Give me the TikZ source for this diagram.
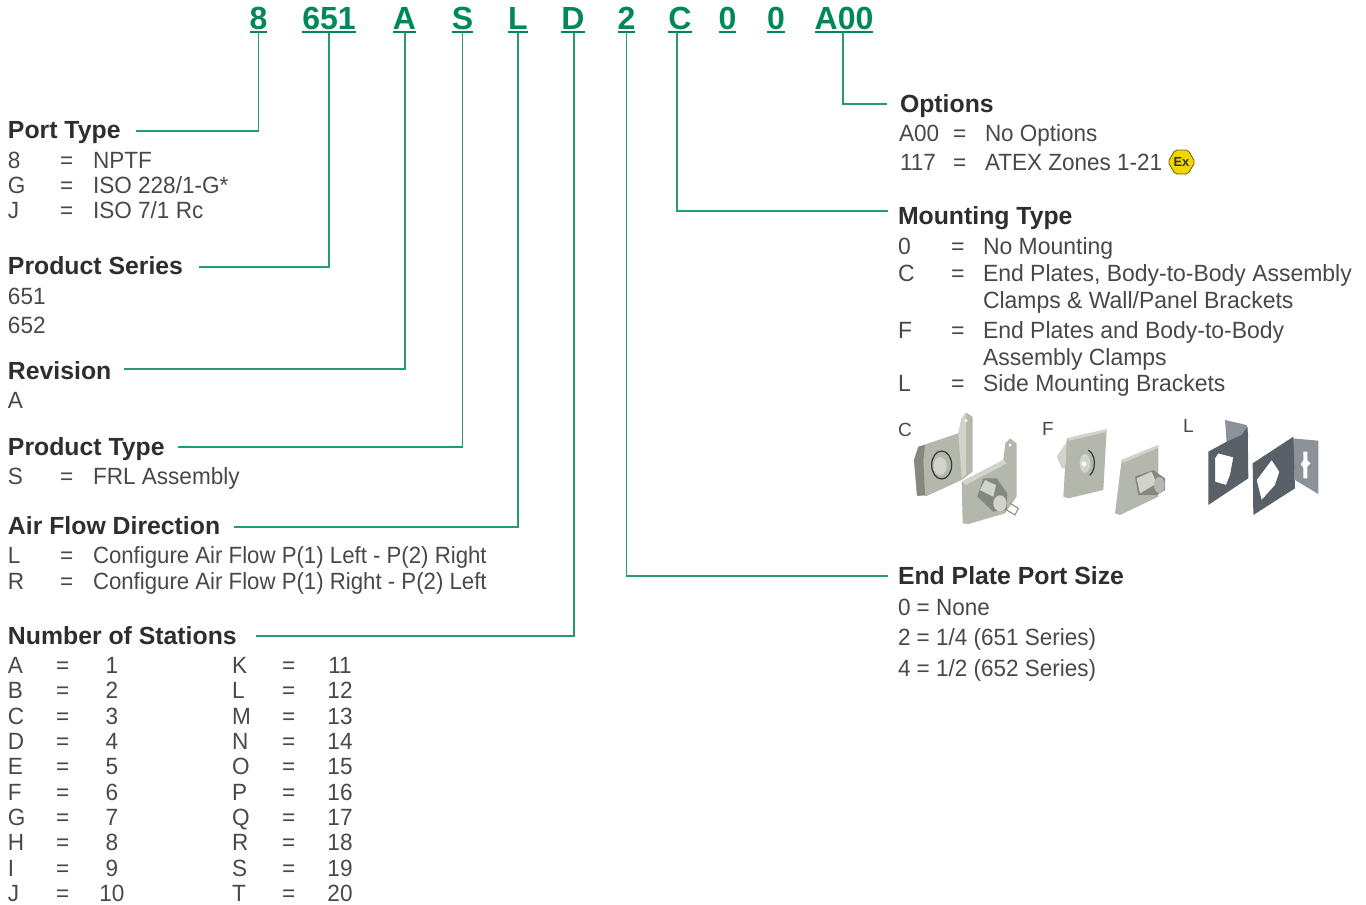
\documentclass[tikz,border=0pt]{standalone}
\usepackage{fontspec}
\setmainfont{Liberation Sans}
\newfontfamily\fL[FakeStretch=0.96]{Liberation Sans}
\newfontfamily\fC[FakeStretch=0.945]{Liberation Sans}
\newfontfamily\fR[FakeStretch=0.977]{Liberation Sans}
\newfontfamily\fE[FakeStretch=0.957]{Liberation Sans}
\definecolor{grn}{HTML}{00885A}
\definecolor{txtc}{HTML}{484848}
\definecolor{pl}{HTML}{B4B7AC}
\definecolor{pld}{HTML}{85887F}
\definecolor{pll}{HTML}{D2D4CC}
\definecolor{stl}{HTML}{5A6068}
\definecolor{stll}{HTML}{8D9298}
\definecolor{exy}{HTML}{F2D500}
\tikzset{
 every node/.style={inner sep=0pt,outer sep=0pt},
 codebox/.style={anchor=base,text=grn,font=\fontsize{32}{32}\selectfont\bfseries,text depth=2.5pt},
 ul/.style={draw=grn,line width=2pt},
 lead/.style={draw=grn,line width=1.1pt,opacity=.85},
 head/.style={anchor=base west,text=black!82,font=\fontsize{24.8}{25}\selectfont\bfseries},
 body/.style={anchor=base west,text=txtc,font=\fontsize{23.5}{24}\fL\selectfont},
 bodyc/.style={anchor=base west,text=txtc,font=\fontsize{23.5}{24}\fC\selectfont},
 bodyr/.style={anchor=base west,text=txtc,font=\fontsize{23.5}{24}\fR\selectfont},
 bodye/.style={anchor=base west,text=txtc,font=\fontsize{23.5}{24}\fE\selectfont},
 num/.style={anchor=base,text=txtc,font=\fontsize{23.5}{24}\fL\selectfont},
 small/.style={anchor=base west,text=txtc,font=\fontsize{19}{20}\selectfont},
}
\begin{document}
\begin{tikzpicture}[x=1pt,y=-1pt]
\useasboundingbox (0,0) rectangle (1366,905);
% code letters
\foreach \nm/\xx/\tx in {c8/258.5/8,c651/329/651,cA/404.5/A,cS/462.5/S,cL/518/L,cD/573/D,c2/626.5/2,cC/680/C,cZa/727.5/0,cZb/776/0,cOpt/844/A00}{
 \node[codebox] (\nm) at (\xx,29.5) {\tx};
 \draw[ul] (\nm.south west) -- (\nm.south east);
}
% headings
\node[head] (hPort) at (8,138) {Port Type};
\node[head] (hSeries) at (8,274) {Product Series};
\node[head] (hRev) at (8,379) {Revision};
\node[head] (hProd) at (8,455) {Product Type};
\node[head] (hAir) at (8,534) {Air Flow Direction};
\node[head] (hNum) at (8,644) {Number of Stations};
\node[head] (hOpt) at (900,112) {Options};
\node[head] (hMount) at (898,224) {Mounting Type};
\node[head] (hEnd) at (898,584) {End Plate Port Size};
% leader ends
\coordinate (ePort) at (136,131);
\coordinate (eSeries) at (199,267);
\coordinate (eRev) at (124,369);
\coordinate (eProd) at (178,447);
\coordinate (eAir) at (234,527);
\coordinate (eNum) at (256,636);
\coordinate (eOpt) at (887,104);
\coordinate (eMount) at (888,211);
\coordinate (eEnd) at (888,576);
\draw[lead] (c8.south) |- (ePort);
\draw[lead] (c651.south) |- (eSeries);
\draw[lead] (cA.south) ++(0.5,0) |- (eRev);
\draw[lead] (cS.south) |- (eProd);
\draw[lead] (cL.south) |- (eAir);
\draw[lead] (cD.south) ++(1,0) |- (eNum);
\draw[lead] (c2.south) |- (eEnd);
\draw[lead] (cC.south) ++(-3,0) |- (eMount);
\draw[lead] (cOpt.south) ++(-1,0) |- (eOpt);
% left blocks
\node[body] (a1) at (8,168) {8};\node[body] (a2) at (60,168) {=};\node[body] (a3) at (93,168) {NPTF};
\node[body] (b1) at (8,193) {G};\node[body] (b2) at (60,193) {=};\node[body] (b3) at (93,193) {ISO 228/1-G*};
\node[body] (d1) at (8,218) {J};\node[body] (d2) at (60,218) {=};\node[body] (d3) at (93,218) {ISO 7/1 Rc};
\node[body] (s1) at (8,304) {651};
\node[body] (s2) at (8,333) {652};
\node[body] (r1) at (8,408) {A};
\node[body] (p1) at (8,484) {S};\node[body] (p2) at (60,484) {=};\node[body] (p3) at (93,484) {FRL Assembly};
\node[body] (f1) at (8,563) {L};\node[body] (f2) at (60,563) {=};\node[bodyc] (f3) at (93,563) {Configure Air Flow P(1) Left - P(2) Right};
\node[body] (g1) at (8,589) {R};\node[body] (g2) at (60,589) {=};\node[bodyc] (g3) at (93,589) {Configure Air Flow P(1) Right - P(2) Left};
% stations
\foreach \yy/\la/\na/\lb/\nb [count=\i] in {673/A/1/K/11,698/B/2/L/12,724/C/3/M/13,749/D/4/N/14,774/E/5/O/15,800/F/6/P/16,825/G/7/Q/17,850/H/8/R/18,876/I/9/S/19,901/J/10/T/20}{
 \node[body] (la\i) at (8,\yy) {\la};
 \node[body] (ea\i) at (56,\yy) {=};
 \node[num] (na\i) at (112,\yy) {\na};
 \node[body] (lb\i) at (232,\yy) {\lb};
 \node[body] (eb\i) at (282,\yy) {=};
 \node[num] (nb\i) at (340,\yy) {\nb};
}
% options
\node[bodye] (o1) at (899,141) {A00};\node[bodye] (o2) at (953,141) {=};\node[bodye] (o3) at (985,141) {No Options};
\node[bodye] (o4) at (900,170) {117};\node[bodye] (o5) at (953,170) {=};\node[bodye] (o6) at (985,170) {ATEX Zones 1-21};
% Ex mark
\filldraw[fill=exy,draw=black!55!exy,line width=.8pt,rounded corners=2pt] (1168,162) -- (1175,150) -- (1188,150) -- (1195,162) -- (1188,174) -- (1175,174) -- cycle;
\node[anchor=center,text=black!80,font=\fontsize{13}{13}\selectfont\bfseries] (exm) at (1181.5,162) {Ex};
% mounting
\node[bodyr] (m1) at (898,254) {0};\node[bodyr] (m2) at (951,254) {=};\node[bodyr] (m3) at (983,254) {No Mounting};
\node[bodyr] (m4) at (898,281) {C};\node[bodyr] (m5) at (951,281) {=};\node[bodyr] (m6) at (983,281) {End Plates, Body-to-Body Assembly};
\node[bodyr] (m7) at (983,308) {Clamps \& Wall/Panel Brackets};
\node[bodyr] (m8) at (898,338) {F};\node[bodyr] (m9) at (951,338) {=};\node[bodyr] (m10) at (983,338) {End Plates and Body-to-Body};
\node[bodyr] (m11) at (983,365) {Assembly Clamps};
\node[bodyr] (m12) at (898,391) {L};\node[bodyr] (m13) at (951,391) {=};\node[bodyr] (m14) at (983,391) {Side Mounting Brackets};
\node[small] (tC) at (898,436) {C};
\node[small] (tF) at (1042,435) {F};
\node[small] (tL) at (1183,432) {L};
% end plate
\node[bodye] (e1) at (898,615) {0 = None};
\node[bodye] (e2) at (898,645) {2 = 1/4 (651 Series)};
\node[bodye] (e3) at (898,676) {4 = 1/2 (652 Series)};
% pictures (coordinates are 3x crop pixels)
\begin{scope}[shift={(890,400)},scale=1/3,line join=round]
 % C left
 \fill[pl] (80,285) -- (72,180) -- (85,140) -- (205,100) -- (215,55) -- (228,38) -- (248,50) -- (248,215) -- (215,240) -- (110,288) -- cycle;
 \fill[pld] (72,180) -- (85,140) -- (105,135) -- (100,180) -- (105,285) -- (82,288) -- cycle;
 \fill[pll] (205,100) -- (215,55) -- (228,38) -- (228,225) -- (215,235) -- cycle;
 \fill[white] (228,62) circle[radius=5];
 \draw[line width=1.2pt,black!70!pl] (155,195) ellipse[x radius=30,y radius=42];
 \fill[pll] (150,198) ellipse[x radius=20,y radius=27];
 % C right
 \fill[pl] (218,370) -- (215,245) -- (340,180) -- (346,130) -- (360,115) -- (380,130) -- (380,290) -- (345,340) -- (235,372) -- cycle;
 \fill[pll] (215,245) -- (340,180) -- (350,190) -- (228,255) -- cycle;
 \fill[white] (360,135) circle[radius=5];
 \fill[pld] (262,290) -- (280,235) -- (320,235) -- (352,280) -- (350,330) -- (310,335) -- cycle;
 \fill[pll] (270,270) -- (285,240) -- (318,255) -- (310,290) -- cycle;
 \fill[pll] (330,310) ellipse[x radius=20,y radius=24];
 \draw[line width=1pt,pld] (350,330) -- (375,345) -- (385,325) -- (360,310);
 % F left
 \fill[pl] (520,290) -- (530,115) -- (650,88) -- (640,270) -- (535,295) -- cycle;
 \fill[pll] (530,115) -- (650,88) -- (650,96) -- (538,122) -- cycle;
 \fill[pll] (530,125) -- (500,170) -- (515,205) -- (525,205) -- cycle;
 \draw[line width=1.2pt,black!70!pl] (595,150) arc[start angle=-70,end angle=60,x radius=28,y radius=42];
 \fill[pll] (585,190) ellipse[x radius=16,y radius=28];
 \fill[white] (582,192) circle[radius=7];
 % F right
 \fill[pl] (675,340) -- (695,180) -- (805,135) -- (805,290) -- (690,345) -- cycle;
 \fill[pll] (695,180) -- (805,135) -- (805,143) -- (700,188) -- cycle;
 \fill[pld] (735,230) -- (790,210) -- (825,235) -- (825,270) -- (800,285) -- (745,285) -- cycle;
 \fill[pll] (740,235) -- (785,215) -- (800,250) -- (750,280) -- cycle;
 \fill[pld!60!white] (808,255) ellipse[x radius=16,y radius=24];
 % L left
 \fill[stll] (1005,60) -- (1070,75) -- (1075,110) -- (1010,130) -- cycle;
 \fill[stl,even odd rule] (955,315) -- (955,155) -- (1010,125) -- (1055,105) -- (1073,80) -- (1075,235) -- cycle
   (975,175) -- (985,160) -- (1030,172) -- (1020,225) -- (1008,255) -- (975,245) -- cycle;
 % L right
 \fill[stll,even odd rule] (1205,115) -- (1285,122) -- (1285,282) -- (1215,240) -- cycle
   (1240,155) -- (1252,155) -- (1252,180) -- (1262,190) -- (1252,200) -- (1252,235) -- (1240,235) -- (1240,205) -- (1232,192) -- (1240,180) -- cycle;
 \fill[stl,even odd rule] (1090,345) -- (1088,190) -- (1210,110) -- (1215,265) -- cycle
   (1100,240) -- (1145,180) -- (1168,215) -- (1155,255) -- (1115,300) -- cycle;
\end{scope}
\end{tikzpicture}
\end{document}
